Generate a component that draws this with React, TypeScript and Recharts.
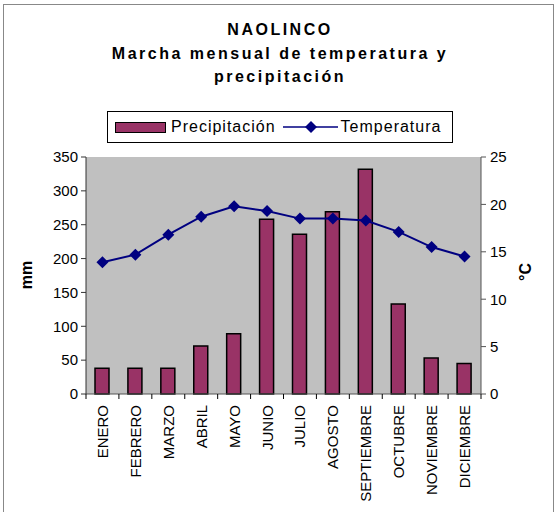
import { ComposedChart, Bar, Line, XAxis, YAxis, CartesianGrid } from "recharts";

const months = [
  "ENERO", "FEBRERO", "MARZO", "ABRIL", "MAYO", "JUNIO",
  "JULIO", "AGOSTO", "SEPTIEMBRE", "OCTUBRE", "NOVIEMBRE", "DICIEMBRE",
];
const precipitation = [38, 38, 38, 71, 89, 258, 236, 269, 332, 133, 53, 45];
const temperature = [13.9, 14.7, 16.8, 18.7, 19.8, 19.3, 18.5, 18.5, 18.3, 17.1, 15.5, 14.5];
const mmTicks = [0, 50, 100, 150, 200, 250, 300, 350];
const tempTicks = [0, 5, 10, 15, 20, 25];

const data = months.map((m, i) => ({ month: m, prec: precipitation[i], temp: temperature[i] }));

const FONT = "Arial, 'Liberation Sans', sans-serif";
const BAR = "#993366";
const NAVY = "#000080";

const Diamond = (props: any) => {
  const { cx, cy } = props;
  if (cx == null || cy == null) return null;
  return <polygon points={`${cx},${cy - 6} ${cx + 6},${cy} ${cx},${cy + 6} ${cx - 6},${cy}`} fill={NAVY} />;
};

// Month labels run upward; tick marks sit between categories like the old spreadsheet charts
const MonthTick = (props: any) => {
  const { x, y, payload, index } = props;
  const off = payload.offset || 0;
  const ty = y + 11;
  return (
    <g>
      <line x1={x - off} y1={y} x2={x - off} y2={y + 5} stroke="#000" />
      {index === months.length - 1 && <line x1={x + off} y1={y} x2={x + off} y2={y + 5} stroke="#000" />}
      <text
        x={x}
        y={ty}
        transform={`rotate(-90, ${x}, ${ty})`}
        textAnchor="end"
        dominantBaseline="central"
        fontSize={15}
        fontFamily={FONT}
        fill="#000"
      >
        {payload.value}
      </text>
    </g>
  );
};

const LegendBox = () => (
  <div
    style={{
      position: "absolute",
      left: 107,
      top: 111,
      width: 346,
      height: 32,
      border: "1px solid #000",
      background: "#fff",
      display: "flex",
      alignItems: "center",
      fontFamily: FONT,
      fontSize: 16,
      letterSpacing: 1,
      boxSizing: "border-box",
    }}
  >
    <span style={{ display: "inline-block", width: 49, height: 9, background: BAR, border: "1.5px solid #000", marginLeft: 7, marginRight: 5 }} />
    <span>Precipitación</span>
    <svg width={56} height={14} style={{ marginLeft: 7, marginRight: 2 }}>
      <line x1={0} y1={7} x2={55} y2={7} stroke={NAVY} strokeWidth={1.5} />
      <polygon points="28,1 34,7 28,13 22,7" fill={NAVY} />
    </svg>
    <span>Temperatura</span>
  </div>
);

export default function App() {
  return (
    <div style={{ position: "absolute", left: 0, top: 0, width: 556, height: 512, background: "#fff", overflow: "hidden" }}>
      <div style={{ position: "absolute", left: 3, top: 4, width: 549, height: 520, border: "1.5px solid #888" }} />
      <div
        style={{
          position: "absolute",
          left: 2,
          top: 18,
          width: 556,
          textAlign: "center",
          fontFamily: FONT,
          fontWeight: "bold",
          fontSize: 16,
          letterSpacing: 2.5,
          lineHeight: "23.5px",
        }}
      >
        <div>NAOLINCO</div>
        <div>Marcha mensual de temperatura y</div>
        <div>precipitación</div>
      </div>
      <div
        style={{
          position: "absolute",
          left: 27,
          top: 275,
          transform: "translate(-50%, -50%) rotate(-90deg)",
          fontFamily: FONT,
          fontWeight: "bold",
          fontSize: 16,
        }}
      >
        mm
      </div>
      <div
        style={{
          position: "absolute",
          left: 526,
          top: 272,
          transform: "translate(-50%, -50%) rotate(-90deg)",
          fontFamily: FONT,
          fontWeight: "bold",
          fontSize: 16,
        }}
      >
        °C
      </div>
      <ComposedChart
        width={556}
        height={512}
        data={data}
        margin={{ top: 157, right: 0, left: 0, bottom: 0 }}
        barCategoryGap={0}
        style={{ position: "absolute", left: 0, top: 0 }}
      >
        <CartesianGrid fill="#c0c0c0" horizontal={false} vertical={false} />
        <XAxis
          dataKey="month"
          height={118}
          interval={0}
          tickLine={false}
          tickSize={0}
          tickMargin={0}
          axisLine={{ stroke: "#555" }}
          tick={<MonthTick />}
        />
        <YAxis
          yAxisId="mm"
          width={86}
          domain={[0, 350]}
          ticks={mmTicks}
          tickSize={5}
          tickMargin={3}
          axisLine={{ stroke: "#333" }}
          tickLine={{ stroke: "#333" }}
          tick={{ fontSize: 15, fill: "#000", fontFamily: FONT }}
        />
        <YAxis
          yAxisId="c"
          orientation="right"
          width={75}
          domain={[0, 25]}
          ticks={tempTicks}
          tickSize={5}
          tickMargin={4}
          axisLine={{ stroke: "#555" }}
          tickLine={{ stroke: "#555" }}
          tick={{ fontSize: 15, fill: "#000", fontFamily: FONT }}
        />
        <Bar
          yAxisId="mm"
          dataKey="prec"
          name="Precipitación"
          fill={BAR}
          stroke="#000"
          strokeWidth={1.5}
          barSize={14}
          isAnimationActive={false}
        />
        <Line
          yAxisId="c"
          dataKey="temp"
          name="Temperatura"
          stroke={NAVY}
          strokeWidth={2}
          dot={<Diamond />}
          activeDot={false}
          isAnimationActive={false}
        />
      </ComposedChart>
      <LegendBox />
    </div>
  );
}
